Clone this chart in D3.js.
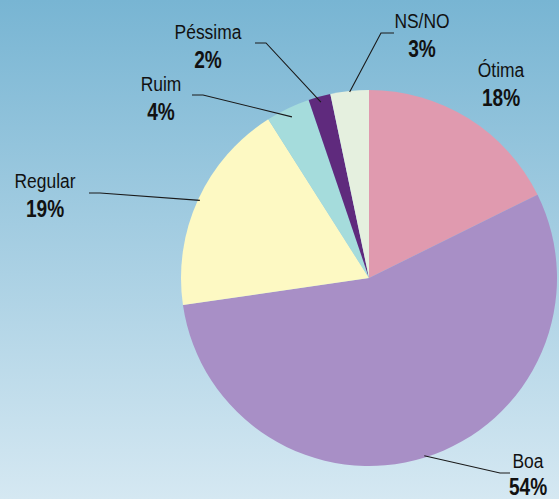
<!DOCTYPE html>
<html lang="pt">
<head>
<meta charset="utf-8">
<title>Avaliação</title>
<script src="https://cdn.jsdelivr.net/npm/d3@7"></script>
<style>
  body { margin: 0; }
  text { font-family: "Liberation Sans", Arial, sans-serif; fill: #111; }
</style>
</head>
<body>
<script>
// data: slice sizes as measured in the picture, labels as printed
var categories = ["Ótima", "Boa", "Regular", "Ruim", "Péssima", "NS/NO"];
var values = [17.7, 55.0, 18.3, 3.8, 1.9, 3.3];
var labels = ["18%", "54%", "19%", "4%", "2%", "3%"];
var colors = ["#e09aaf", "#a88fc6", "#fdf9c3", "#a5dcdc", "#5f2a7d", "#e5f0df"];

var w = 559, h = 499;
var cx = 369, cy = 278, r = 188;

// label placement: text center and leader bend point
var layout = {
  "Ótima":   { tx: 501, ty: 77 },
  "Boa":     { tx: 528, ty: 468, bend: [500, 473], end: [510, 473], lr: 0.99 },
  "Regular": { tx: 45,  ty: 188, bend: [100, 193], end: [89, 193], lr: 0.99 },
  "Ruim":    { tx: 161, ty: 91,  bend: [203, 95],  end: [192, 95], lr: 0.95 },
  "Péssima": { tx: 208, ty: 39,  bend: [266, 43],  end: [255, 43], lr: 0.97 },
  "NS/NO":   { tx: 422, ty: 28,  bend: [381, 33],  end: [394, 33], lr: 0.995 }
};

var svg = d3.select("body").append("svg")
  .attr("width", w).attr("height", h);

var grad = svg.append("defs").append("linearGradient")
  .attr("id", "bg").attr("x1", 0).attr("y1", 0).attr("x2", 0).attr("y2", 1);
grad.append("stop").attr("offset", "0%").attr("stop-color", "#78b5d3");
grad.append("stop").attr("offset", "100%").attr("stop-color", "#d5e8f2");

svg.append("rect").attr("width", w).attr("height", h).attr("fill", "url(#bg)");

var pie = d3.pie().sort(null).value(function(d){ return d; });
var arcs = pie(values);

var arc = d3.arc().innerRadius(0).outerRadius(r);

var g = svg.append("g").attr("transform", "translate(" + cx + "," + cy + ")");

g.selectAll("path")
  .data(arcs)
  .enter()
  .append("path")
  .attr("d", arc)
  .attr("fill", function(d, i){ return colors[i]; });

// leader lines
arcs.forEach(function(d, i){
  var L = layout[categories[i]];
  if (!L.bend) return;
  var a = (d.startAngle + d.endAngle) / 2;
  var pr = r * L.lr;
  var sx = cx + pr * Math.sin(a), sy = cy - pr * Math.cos(a);
  svg.append("polyline")
    .attr("points", [[sx, sy], L.bend, L.end].map(function(p){ return p.join(","); }).join(" "))
    .attr("fill", "none")
    .attr("stroke", "#1a1a1a")
    .attr("stroke-width", 1.1);
});

// labels (condensed look via horizontal scale)
var sx = 0.83;
categories.forEach(function(c, i){
  var L = layout[c];
  svg.append("text")
    .attr("transform", "translate(" + L.tx + "," + L.ty + ") scale(" + sx + ",1)")
    .attr("text-anchor", "middle")
    .attr("font-size", 21)
    .text(c);
  svg.append("text")
    .attr("transform", "translate(" + L.tx + "," + Math.min(L.ty + 29, 495) + ") scale(" + sx + ",1)")
    .attr("text-anchor", "middle")
    .attr("font-size", 23)
    .attr("font-weight", "bold")
    .text(labels[i]);
});
</script>
</body>
</html>
